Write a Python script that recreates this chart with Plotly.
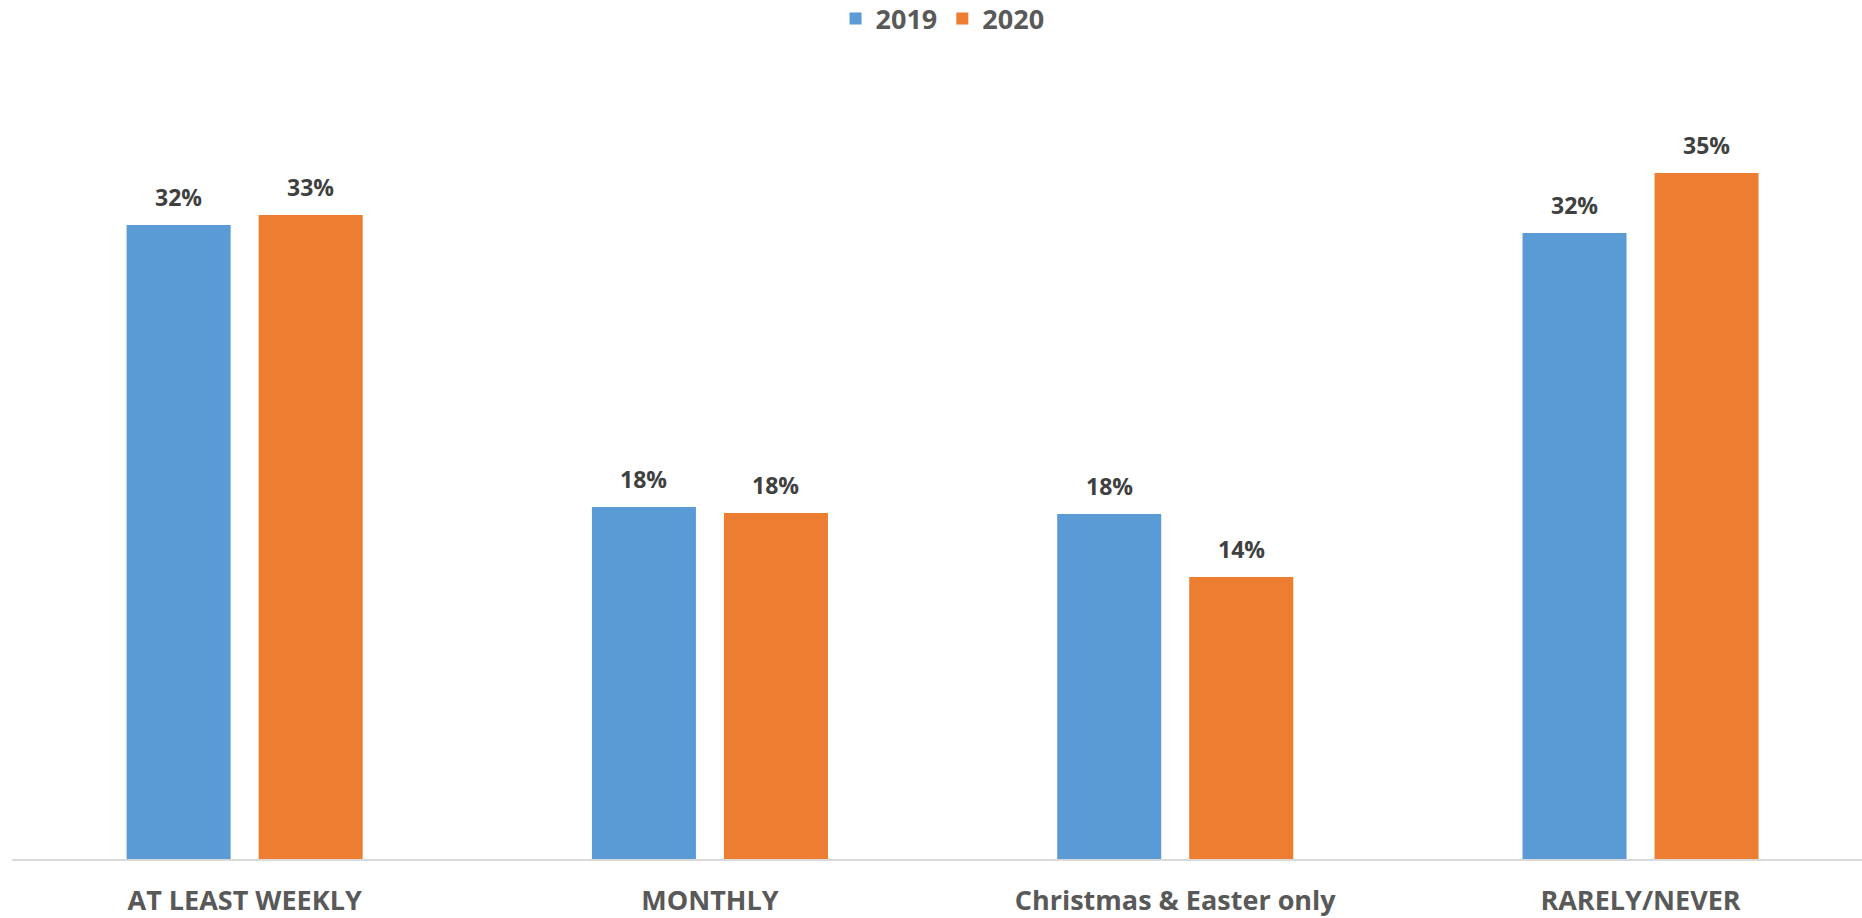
import plotly.graph_objects as go

categories = ["AT LEAST WEEKLY", "MONTHLY", "Christmas & Easter only", "RARELY/NEVER"]
series_names = ["2019", "2020"]
values_2019 = [32.35, 17.96, 17.6, 31.94]
values_2020 = [32.86, 17.65, 14.39, 35.0]
colors = ["#5B9BD5", "#ED7D31"]

W, H = 1862, 918
plot_top, plot_bottom = 60, 859
margin_l, margin_r = 12, 0
px_per_pct = 19.6
ymax = (plot_bottom - plot_top) / px_per_pct
xrange_ = [-0.5, 3.476]
bargap, bargroupgap = 0.4325, 0.212
unit_px = (W - margin_l - margin_r) / (xrange_[1] - xrange_[0])
slot_px = unit_px * (1 - bargap) / 2

fig = go.Figure()
annotations = []
for i, (name, vals, col) in enumerate(zip(series_names, [values_2019, values_2020], colors)):
    fig.add_trace(go.Bar(
        x=categories, y=vals, name=name,
        marker=dict(color=col, line=dict(width=0)),
        cliponaxis=False,
    ))
    shift = (i - 0.5) * slot_px
    for c, v in zip(categories, vals):
        annotations.append(dict(
            x=c, y=v, xref="x", yref="y", text=f"{v:.0f}%", showarrow=False,
            xanchor="center", yanchor="bottom", xshift=shift, yshift=10,
            font=dict(family="Open Sans", size=23, color="#404040", weight="bold"),
        ))

fig.update_layout(
    width=W, height=H,
    margin=dict(l=margin_l, r=margin_r, t=plot_top, b=H - plot_bottom, pad=0),
    barmode="group", bargap=bargap, bargroupgap=bargroupgap,
    plot_bgcolor="white", paper_bgcolor="white",
    showlegend=True,
    legend=dict(orientation="h", x=0.503, xanchor="center", yref="container", y=1 - 19 / H,
                yanchor="middle",
                font=dict(family="Open Sans", size=27, color="#595959", weight="bold"),
                traceorder="normal"),
    annotations=annotations,
)
fig.update_xaxes(
    range=xrange_, showgrid=False, zeroline=False,
    showline=True, linecolor="#D9D9D9", linewidth=1.5,
    ticks="outside", ticklen=17, tickcolor="rgba(0,0,0,0)",
    tickfont=dict(family="Open Sans", size=27, color="#595959", weight="bold"),
)
fig.update_yaxes(range=[0, ymax], visible=False, showgrid=False, zeroline=False)

fig.write_html("out.html", config={"displayModeBar": False},
               post_script="document.body.style.margin='0';")
